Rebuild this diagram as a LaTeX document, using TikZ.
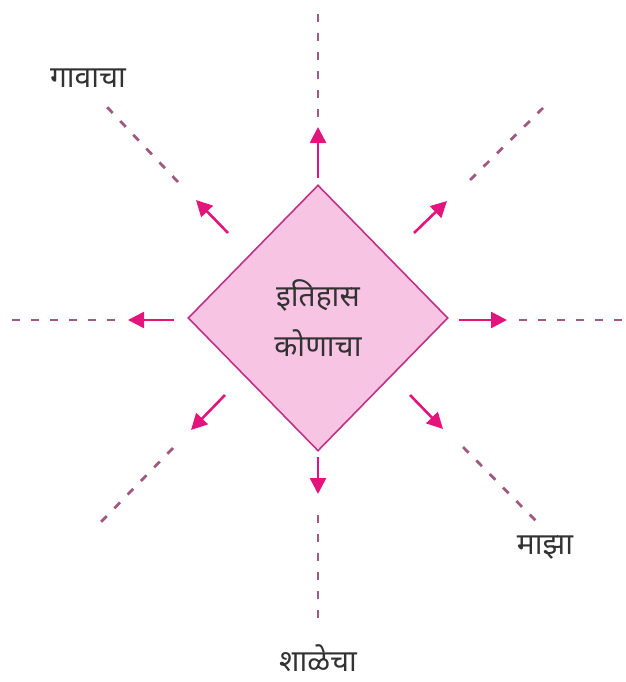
\documentclass[tikz,border=0pt]{standalone}
\usepackage{fontspec}
\newfontfamily\deva[Script=Devanagari]{Noto Sans}
\usetikzlibrary{arrows.meta,shapes.geometric}
\definecolor{boxpink}{RGB}{247,196,228}
\definecolor{boxedge}{RGB}{190,50,135}
\definecolor{pushcol}{RGB}{228,20,125}
\definecolor{trailcol}{RGB}{160,90,130}
\definecolor{inkgray}{RGB}{50,50,50}

\begin{document}
\begin{tikzpicture}[x=1pt,y=-1pt,
    every node/.style={font=\deva\fontsize{30}{50}\selectfont,text=inkgray},
    push/.style={pushcol,line width=2.6pt,-{Triangle[length=16pt,width=16pt]}},
    trail/.style={trailcol,line width=2.8pt,dash pattern=on 8pt off 11pt}]
  \useasboundingbox (0,0) rectangle (625,682);
  % centre
  \node[diamond,draw=boxedge,line width=1.6pt,fill=boxpink,inner sep=0pt,
        minimum width=260pt,minimum height=266pt,align=center] (hub) at (318,318)
        {इतिहास\\कोणाचा};
  % arrow tails (t), tips (h), dash starts (s), dash ends (e)
  \foreach \d/\tx/\ty/\hx/\hy/\sx/\sy/\ex/\ey in {
      n/318/178/318/127/318/117/318/4,
      s/318/457/318/494/318/515/318/628,
      w/174/320/128/320/115/320/7/320,
      e/459/320/507/320/519/320/623/320,
      nw/228/233/196/200/178/182/107/107,
      ne/414/233/447/201/470/180/543/108,
      sw/225/395/191/430/173/448/100/523,
      se/410/395/443/429/463/447/538/523}{
    \coordinate (\d t) at (\tx,\ty);
    \coordinate (\d h) at (\hx,\hy);
    \coordinate (\d s) at (\sx,\sy);
    \coordinate (\d e) at (\ex,\ey);
    \draw[push] (\d t) -- (\d h);
    \draw[trail] (\d s) -- (\d e);
  }
  % labels
  \node (village) at (88,78) {गावाचा};
  \node (mine) at (545,548) {माझा};
  \node[inner sep=1pt] (school) at (318,658) {शाळेचा};
\end{tikzpicture}
\end{document}
